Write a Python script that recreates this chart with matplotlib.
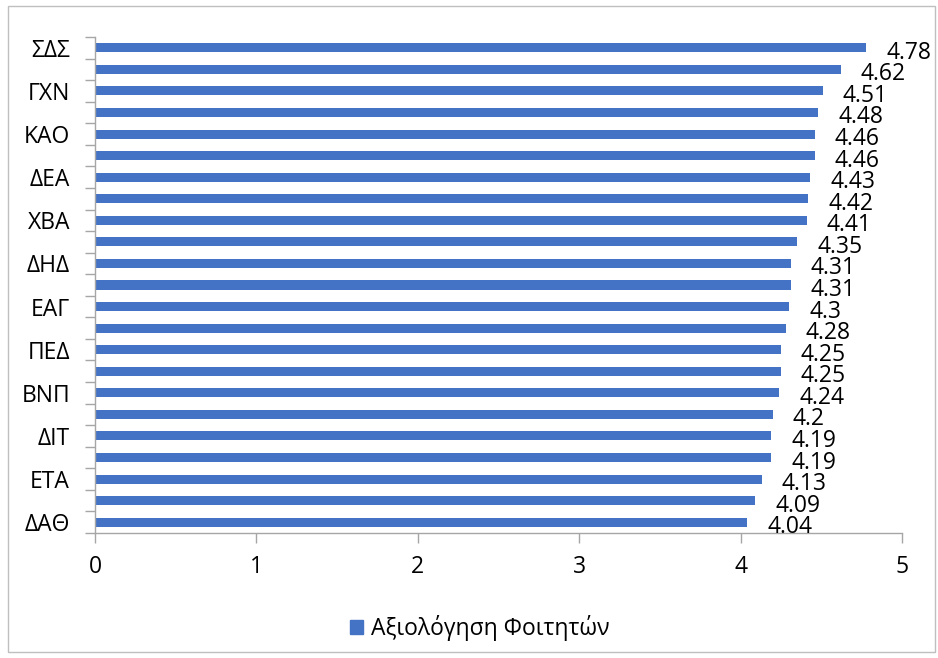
import matplotlib
matplotlib.use("Agg")
import matplotlib.pyplot as plt
from matplotlib.patches import Rectangle
from matplotlib.transforms import ScaledTranslation
import numpy as np

plt.rcParams['font.family'] = ['Open Sans', 'DejaVu Sans']

categories = ['ΣΔΣ', '', 'ΓΧΝ', '', 'ΚΑΟ', '', 'ΔΕΑ', '', 'ΧΒΑ', '', 'ΔΗΔ', '',
              'ΕΑΓ', '', 'ΠΕΔ', '', 'ΒΝΠ', '', 'ΔΙΤ', '', 'ΕΤΑ', '', 'ΔΑΘ']
values = [4.78, 4.62, 4.51, 4.48, 4.46, 4.46, 4.43, 4.42, 4.41, 4.35, 4.31, 4.31,
          4.3, 4.28, 4.25, 4.25, 4.24, 4.2, 4.19, 4.19, 4.13, 4.09, 4.04]
series_name = 'Αξιολόγηση Φοιτητών'
xticks = [0, 1, 2, 3, 4, 5]

color = '#4472C4'
grey = '#A6A6A6'
fs = 16.5

fig = plt.figure(figsize=(9.38, 6.58), dpi=100)
ax = fig.add_axes([95/938, 1-533/658, (902-95)/938, (533-37)/658])

y = np.arange(len(values))
bars = ax.barh(y, values, height=0.42, color=color, label=series_name)

ax.set_ylim(len(values)-0.5, -0.5)
ax.set_xlim(0, 5)
ax.set_xticks(xticks)
ax.set_xticklabels([str(t) for t in xticks])
label_idx = [i for i, c in enumerate(categories) if c]
ax.set_yticks(label_idx)
ax.set_yticklabels([categories[i] for i in label_idx])
ax.set_yticks(np.arange(-0.5, len(values)), minor=True)
ax.tick_params(axis='y', which='major', length=0, pad=18, labelsize=fs)
ax.tick_params(axis='y', which='minor', length=7, color=grey, width=1)
ax.tick_params(axis='x', which='major', length=7, color=grey, width=1, labelsize=fs, pad=9)

for s in ['top', 'right']:
    ax.spines[s].set_visible(False)
for s in ['left', 'bottom']:
    ax.spines[s].set_color(grey)
    ax.spines[s].set_linewidth(1)

off = ScaledTranslation(20/100, -5/100, fig.dpi_scale_trans)
for yi, v in zip(y, values):
    ax.text(v, yi, f'{v:g}', ha='left', va='center', fontsize=fs,
            transform=ax.transData + off)

leg = fig.legend(handles=[Rectangle((0, 0), 1, 1, color=color)], labels=[series_name],
                 loc='center', bbox_to_anchor=(480/938, 1-628/658), frameon=False,
                 fontsize=fs, handlelength=0.55, handleheight=0.55, handletextpad=0.35)

fig.patches.append(Rectangle((8/938, 6/658), (935-8)/938, (652-6)/658, transform=fig.transFigure,
                             fill=False, edgecolor='#BFBFBF', linewidth=1))

fig.savefig('out.png', dpi=100)
